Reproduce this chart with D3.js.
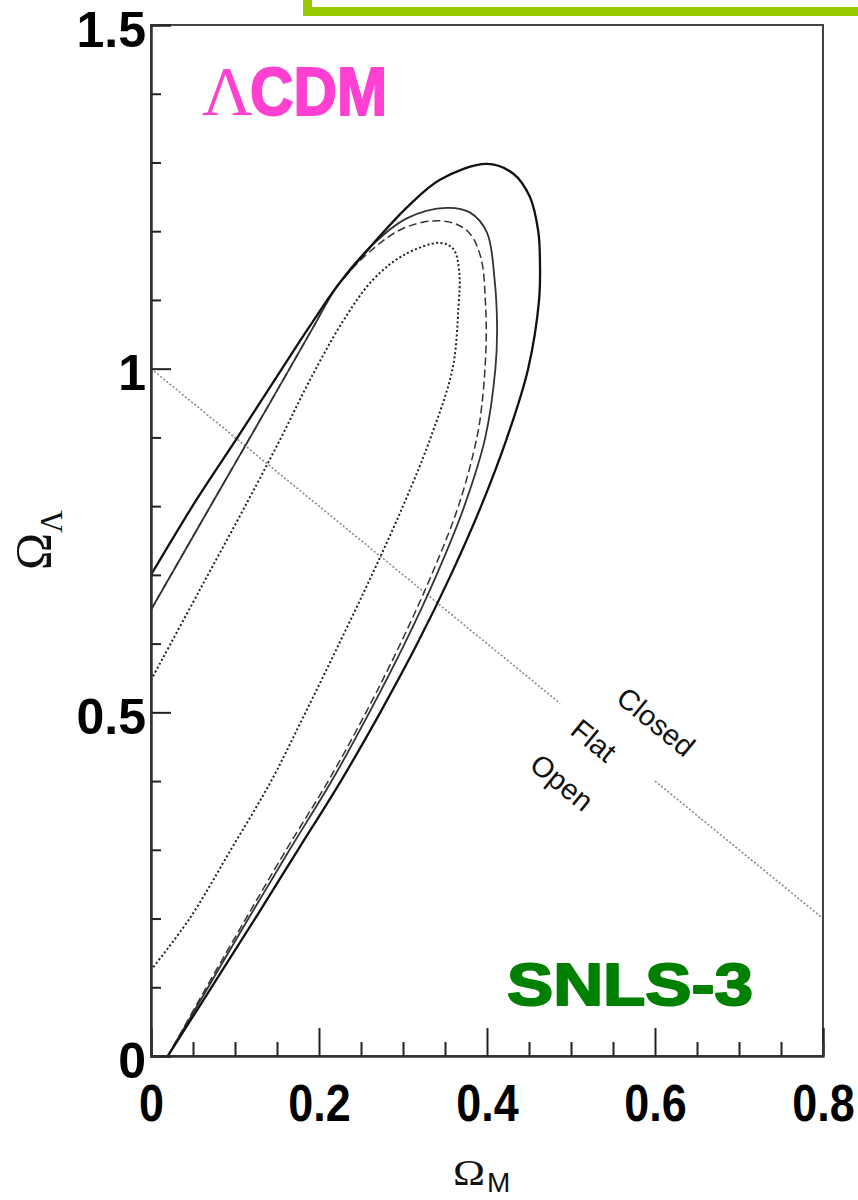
<!DOCTYPE html>
<html><head><meta charset="utf-8">
<script src="https://cdn.jsdelivr.net/npm/d3@7"></script>
<style>
html,body{margin:0;padding:0;background:#fff;}
svg{display:block;}
</style></head>
<body>
<svg id="chart" width="858" height="1200"></svg>
<script>
// ---- data (Omega_M, Omega_Lambda) ----
const xMajorTicks = [0, 0.2, 0.4, 0.6, 0.8];
const xTickLabels = ["0", "0.2", "0.4", "0.6", "0.8"];
const yMajorTicks = [0, 0.5, 1, 1.5];
const yTickLabels = ["0", "0.5", "1", "1.5"];
const xMinorTicks = [0.05,0.1,0.15,0.25,0.3,0.35,0.45,0.5,0.55,0.65,0.7,0.75];
const yMinorTicks = [0.1,0.2,0.3,0.4,0.6,0.7,0.8,0.9,1.1,1.2,1.3,1.4];

const contourOuter = [[0,0.70],[0.054,0.809],[0.103,0.90],[0.156,1.0],[0.188,1.06],[0.221,1.119],
  [0.261,1.177],[0.305,1.235],[0.344,1.275],[0.40,1.298],[0.431,1.284],[0.451,1.25],[0.461,1.20],
  [0.463,1.16],[0.462,1.10],[0.449,1.0],[0.424,0.9],[0.393,0.8],[0.357,0.7],[0.317,0.6],
  [0.273,0.5],[0.226,0.4],[0.175,0.3],[0.124,0.2],[0.072,0.1],[0.020,0]];
const contourInner = [[0,0.649],[0.075,0.809],[0.118,0.90],[0.165,1.0],[0.193,1.06],[0.221,1.119],
  [0.261,1.177],[0.305,1.219],[0.352,1.234],[0.380,1.227],[0.400,1.198],[0.409,1.13],[0.412,1.06],
  [0.410,1.0],[0.398,0.9],[0.373,0.8],[0.340,0.7],[0.302,0.6],[0.260,0.5],[0.215,0.4],
  [0.165,0.3],[0.116,0.2],[0.068,0.1],[0.020,0]];
const contourDashed = [[0,0.649],[0.075,0.809],[0.118,0.90],[0.165,1.0],[0.193,1.06],[0.221,1.119],
  [0.262,1.172],[0.30,1.204],[0.336,1.215],[0.362,1.211],[0.380,1.196],[0.393,1.16],[0.398,1.10],
  [0.399,1.04],[0.395,0.96],[0.388,0.9],[0.366,0.8],[0.334,0.7],[0.297,0.6],[0.256,0.5],
  [0.211,0.4],[0.161,0.3],[0.113,0.2],[0.066,0.1],[0.020,0]];
const contourDotted = [[0,0.547],[0.058,0.678],[0.116,0.809],[0.155,0.90],[0.189,0.983],[0.227,1.066],
  [0.264,1.129],[0.302,1.166],[0.344,1.183],[0.360,1.174],[0.367,1.14],[0.366,1.09],[0.359,1.0],
  [0.333,0.9],[0.300,0.8],[0.263,0.7],[0.224,0.6],[0.184,0.5],[0.143,0.4],[0.095,0.3],
  [0.046,0.2],[0,0.125]];
const flatLineSegments = [[[0,1.0],[0.487,0.513]], [[0.60,0.40],[0.8,0.2]]];
const regionLabels = ["Closed", "Flat", "Open"];
const regionLabelPos = [[0.601,0.486],[0.527,0.459],[0.489,0.398]];

// ---- layout ----
const svg = d3.select("#chart");
const L = 151, R = 823, T = 25, B = 1056;
const x = d3.scaleLinear().domain([0, 0.8]).range([L, R]);
const y = d3.scaleLinear().domain([0, 1.5]).range([B, T]);

// green frame corner at top
svg.append("rect").attr("x",303).attr("y",0).attr("width",9).attr("height",16).attr("fill","#99cc00");
svg.append("rect").attr("x",303).attr("y",7).attr("width",560).attr("height",9).attr("fill","#99cc00");

svg.append("defs").append("clipPath").attr("id","clip")
  .append("rect").attr("x",L).attr("y",T).attr("width",R-L).attr("height",B-T);

const line = d3.line().x(d=>x(d[0])).y(d=>y(d[1])).curve(d3.curveCatmullRom.alpha(0.5));
const plot = svg.append("g").attr("clip-path","url(#clip)");

// flat universe line
flatLineSegments.forEach(seg=>{
  plot.append("path").attr("d", d3.line().x(d=>x(d[0])).y(d=>y(d[1]))(seg))
    .attr("fill","none").attr("stroke","#8a8a8a").attr("stroke-width",1.6).attr("stroke-dasharray","2,2");
});

plot.append("path").attr("d", line(contourDotted)).attr("fill","none")
  .attr("stroke","#222").attr("stroke-width",2).attr("stroke-dasharray","2,2.4");
plot.append("path").attr("d", line(contourDashed)).attr("fill","none")
  .attr("stroke","#333").attr("stroke-width",1.5).attr("stroke-dasharray","8,4");
plot.append("path").attr("d", line(contourInner)).attr("fill","none")
  .attr("stroke","#333").attr("stroke-width",1.8);
plot.append("path").attr("d", line(contourOuter)).attr("fill","none")
  .attr("stroke","#111").attr("stroke-width",2.3);

// region labels
const ang = Math.atan2(y(0.2)-y(1.0), x(0.8)-x(0)) * 180/Math.PI;
regionLabels.forEach((t,i)=>{
  svg.append("text").attr("transform",`translate(${x(regionLabelPos[i][0])},${y(regionLabelPos[i][1])}) rotate(${ang})`)
    .attr("text-anchor","middle").attr("dominant-baseline","central")
    .attr("font-family","Liberation Sans, Arial, sans-serif").attr("font-size",29).attr("fill","#111").text(t);
});

// frame
svg.append("rect").attr("x",L).attr("y",T).attr("width",R-L).attr("height",B-T)
  .attr("fill","none").attr("stroke","#444").attr("stroke-width",2);

// axes
const fmtX = d => xTickLabels[xMajorTicks.indexOf(d)];
const fmtY = d => yTickLabels[yMajorTicks.indexOf(d)];
const gx = svg.append("g").attr("transform",`translate(0,${B})`)
  .call(d3.axisBottom(x).tickValues(xMajorTicks).tickFormat(fmtX).tickSize(-28).tickPadding(29));
svg.append("g").attr("transform",`translate(0,${B})`)
  .call(d3.axisBottom(x).tickValues(xMinorTicks).tickFormat("").tickSize(-14));
const gy = svg.append("g").attr("transform",`translate(${L},0)`)
  .call(d3.axisLeft(y).tickValues(yMajorTicks).tickFormat(fmtY).tickSize(-20).tickPadding(5));
svg.append("g").attr("transform",`translate(${L},0)`)
  .call(d3.axisLeft(y).tickValues(yMinorTicks).tickFormat("").tickSize(-10));
svg.selectAll(".domain").attr("stroke","#333").attr("stroke-width",2);
svg.selectAll(".tick line").attr("stroke","#222").attr("stroke-width",2);
gx.selectAll("text").attr("font-family","Liberation Sans, Arial, sans-serif").attr("font-weight","bold")
  .attr("font-size",51).attr("fill","#000").attr("transform","scale(0.88,1)");
gy.selectAll("text").attr("font-family","Liberation Sans, Arial, sans-serif").attr("font-weight","bold")
  .attr("font-size",50).attr("fill","#000").attr("dy","0.42em");

// axis titles
const yt = svg.append("text").attr("transform","translate(50,570) rotate(-90)")
  .attr("font-family","Liberation Serif, Times New Roman, serif").attr("fill","#111");
yt.append("tspan").attr("font-size",50).text("Ω");
yt.append("tspan").attr("font-size",31).attr("dy",12).text("Λ");

svg.append("text").attr("x",453).attr("y",1185).attr("font-family","Liberation Serif, serif")
  .attr("font-size",35).attr("textLength",32).attr("lengthAdjust","spacingAndGlyphs").attr("fill","#111").text("Ω");
svg.append("text").attr("x",487).attr("y",1192).attr("font-family","Liberation Sans, Arial, sans-serif")
  .attr("font-size",28).attr("fill","#111").text("M");

// annotations
svg.append("text").attr("x",202).attr("y",115).attr("font-family","Liberation Serif, serif")
  .attr("font-size",70).attr("fill","#ff40d0").text("Λ");
svg.append("text").attr("x",250).attr("y",115).attr("font-family","Liberation Sans, Arial, sans-serif")
  .attr("font-weight","bold").attr("font-size",68).attr("textLength",137).attr("lengthAdjust","spacingAndGlyphs")
  .attr("fill","#ff40d0").attr("stroke","#ff40d0").attr("stroke-width",2).attr("stroke-linejoin","round").text("CDM");
svg.append("text").attr("x",507).attr("y",1005).attr("font-family","Liberation Sans, Arial, sans-serif")
  .attr("font-weight","bold").attr("font-size",60).attr("textLength",246).attr("lengthAdjust","spacingAndGlyphs")
  .attr("fill","#008000").attr("stroke","#008000").attr("stroke-width",2).attr("stroke-linejoin","round").text("SNLS-3");
</script>
</body></html>
